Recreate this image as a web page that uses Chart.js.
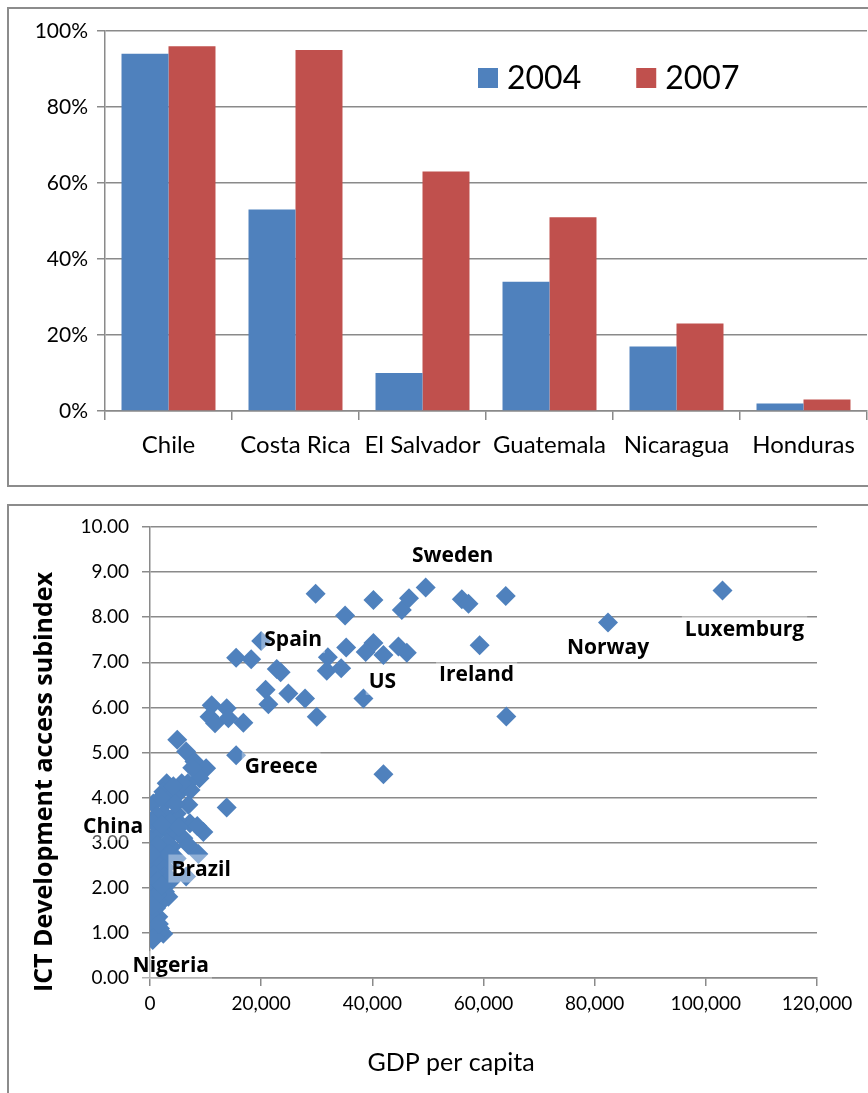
<!DOCTYPE html>
<html>
<head>
<meta charset="utf-8">
<script src="https://cdn.jsdelivr.net/npm/chart.js@4/dist/chart.umd.min.js"></script>
<style>
  html, body { margin: 0; padding: 0; background: #fff; width: 868px; height: 1093px; overflow: hidden; position: relative; }
  .frame { position: absolute; border: 2px solid #8c8c8c; box-sizing: border-box; }
  #frameTop { left: 7px; top: 7px; width: 900px; height: 480px; }
  #frameBottom { left: 7px; top: 504px; width: 900px; height: 700px; }
  canvas { position: absolute; left: 0; }
  #barCanvas { top: 0; width: 868px; height: 495px; }
  #scatterCanvas { top: 500px; width: 868px; height: 593px; }
</style>
</head>
<body>
<div class="frame" id="frameTop"></div>
<div class="frame" id="frameBottom"></div>
<canvas id="barCanvas" width="868" height="495"></canvas>
<canvas id="scatterCanvas" width="868" height="593"></canvas>
<script>
// ---- Bar chart: share by country, 2004 vs 2007 ----
const countries = ['Chile', 'Costa Rica', 'El Salvador', 'Guatemala', 'Nicaragua', 'Honduras'];
const share2004 = [94, 53, 10, 34, 17, 2];
const share2007 = [96, 95, 63, 51, 23, 3];
const seriesYears = ['2004', '2007'];
const percentTicks = [0, 20, 40, 60, 80, 100];

// ---- Scatter: GDP per capita vs ICT access subindex ----
const gdpPerCapita = [
  29800, 40200, 45300, 35100, 46600, 56100, 57300, 64000, 64100, 15500,
  18200, 35300, 32000, 31800, 34400, 38800, 42000, 44700, 46200, 22800,
  23500, 20800, 21300, 24900, 27900, 30000, 38400, 42000, 11100, 13800,
  10700, 11700, 14100, 16800, 4900, 6500, 8000, 10100, 8900, 6800,
  3000, 2400, 5400, 7300, 600, 3300, 13800, 4800, 7600, 5700,
  6900, 9600, 7200, 4800, 2400, 1500, 900, 3900, 6000, 1800,
  3900, 6900, 8700, 600, 2400, 4800, 300, 1800, 3900, 200,
  300, 2700, 3300, 200, 1800, 200, 1500, 200, 1800, 2400,
  1000, 1100, 700, 900, 1200, 2800, 3000, 1200, 3600, 5200,
  2000, 4200, 900, 1400, 600, 2100, 3500, 500, 1300, 2600,
  4600, 8500, 1000, 600, 1000, 500, 1200, 700, 1300, 400,
  800, 1600, 2200, 300
];
const ictAccess = [
  8.52, 8.38, 8.16, 8.04, 8.42, 8.40, 8.30, 8.47, 5.80, 7.10,
  7.07, 7.33, 7.11, 6.81, 6.87, 7.23, 7.16, 7.35, 7.21, 6.85,
  6.78, 6.39, 6.07, 6.31, 6.20, 5.79, 6.20, 4.52, 6.05, 5.98,
  5.79, 5.65, 5.76, 5.66, 5.28, 5.02, 4.80, 4.65, 4.43, 4.32,
  4.32, 4.13, 4.13, 4.17, 3.87, 3.95, 3.78, 3.65, 4.66, 4.32,
  3.84, 3.24, 3.43, 3.50, 3.65, 3.35, 3.17, 3.21, 3.10, 2.84,
  2.91, 2.95, 2.75, 2.62, 2.62, 2.65, 2.39, 2.32, 2.17, 2.17,
  1.95, 1.91, 1.80, 1.73, 1.66, 1.43, 1.36, 1.14, 1.10, 0.98,
  2.05, 1.55, 1.25, 0.95, 2.55, 2.45, 3.00, 3.60, 3.45, 3.35,
  4.00, 4.25, 1.85, 2.95, 3.45, 3.40, 2.75, 2.10, 1.00, 2.25,
  3.85, 3.37, 1.75, 1.50, 1.30, 1.05, 1.85, 2.30, 2.15, 1.60,
  0.90, 1.20, 2.05, 2.75
];
const namedCountries = ['Sweden', 'Spain', 'US', 'Ireland', 'Norway', 'Luxemburg', 'Greece', 'China', 'Brazil', 'Nigeria'];
const namedGdp = [49600, 20000, 40200, 59300, 82400, 103000, 15500, 200, 6500, 500];
const namedIct = [8.66, 7.47, 7.43, 7.38, 7.88, 8.59, 4.94, 2.88, 2.25, 0.84];
const gdpTicks = [0, 20000, 40000, 60000, 80000, 100000, 120000];
const ictTicks = [0, 1, 2, 3, 4, 5, 6, 7, 8, 9, 10];

// label placement (pixel offsets from each named marker)
const noteOffsets = [[27, -32], [32, -2], [9, 38], [-3, 29], [0, 24], [22, 38], [45, 11], [-38, -22], [15, -8], [18, 25]];

const BLUE = '#4F81BD';
const RED = '#C0504D';
const GRID = '#8a8a8a';

Chart.defaults.font.family = 'Lato, "Open Sans", sans-serif';
Chart.defaults.color = '#000';

// legend drawn inside the plot, next to the tallest bars
const insideLegend = {
  id: 'insideLegend',
  afterDraw(chart, args, o) {
    const ctx = chart.ctx;
    ctx.save();
    ctx.font = o.font;
    ctx.textBaseline = 'middle';
    ctx.textAlign = 'left';
    let x = o.x;
    chart.data.datasets.forEach(ds => {
      ctx.fillStyle = ds.backgroundColor;
      ctx.fillRect(x, o.y - o.box / 2, o.box, o.box);
      x += o.box + o.gap;
      ctx.fillStyle = '#000';
      ctx.fillText(ds.label, x, o.y + 1);
      x += ctx.measureText(ds.label).width + o.itemGap;
    });
    ctx.restore();
  }
};

new Chart(document.getElementById('barCanvas'), {
  type: 'bar',
  data: {
    labels: countries,
    datasets: [
      { label: seriesYears[0], data: share2004, backgroundColor: BLUE },
      { label: seriesYears[1], data: share2007, backgroundColor: RED }
    ]
  },
  options: {
    responsive: false,
    animation: false,
    devicePixelRatio: 1,
    categoryPercentage: 0.74,
    barPercentage: 1.0,
    layout: { padding: { top: 31, left: 0, right: 1, bottom: 0 } },
    plugins: {
      legend: { display: false },
      tooltip: { enabled: false },
      insideLegend: { x: 478, y: 78, box: 20, gap: 9, itemGap: 55, font: '32px Lato' }
    },
    scales: {
      x: {
        grid: { display: true, drawOnChartArea: false, drawTicks: true, tickLength: 9, color: GRID, lineWidth: 1.5, offset: true },
        border: { display: true, color: GRID, width: 1.5 },
        ticks: { font: { size: 24 }, padding: 11, maxRotation: 0, autoSkip: false },
        afterFit(scale) { scale.height = 84; }
      },
      y: {
        min: 0, max: 100,
        afterBuildTicks(scale) { scale.ticks = percentTicks.map(v => ({ value: v })); },
        ticks: { font: { size: 21 }, padding: 9, callback: v => v + '%' },
        grid: { color: GRID, lineWidth: 1.5, tickLength: 8 },
        border: { display: true, color: GRID, width: 1.5 },
        afterFit(scale) { scale.width = 105; }
      }
    }
  },
  plugins: [insideLegend]
});

// country names next to their markers, on a faint white plate
const pointNotes = {
  id: 'pointNotes',
  afterDatasetsDraw(chart, args, o) {
    const ctx = chart.ctx;
    const meta = chart.getDatasetMeta(1);
    ctx.save();
    ctx.font = o.font;
    ctx.textAlign = 'center';
    ctx.textBaseline = 'middle';
    namedCountries.forEach((name, i) => {
      const pt = meta.data[i];
      const cx = pt.x + noteOffsets[i][0];
      const cy = pt.y + noteOffsets[i][1];
      const w = ctx.measureText(name).width;
      ctx.fillStyle = 'rgba(255,255,255,0.36)';
      ctx.fillRect(cx - w / 2 - 3, cy - 14, w + 6, 28);
      ctx.fillStyle = '#000';
      ctx.fillText(name, cx, cy + 1);
    });
    ctx.restore();
  }
};

// axis captions
const axisCaptions = {
  id: 'axisCaptions',
  afterDraw(chart, args, o) {
    const ctx = chart.ctx;
    ctx.save();
    ctx.fillStyle = '#000';
    ctx.textAlign = 'center';
    ctx.textBaseline = 'middle';
    ctx.font = o.xFont;
    ctx.fillText(o.xText, o.xAt[0], o.xAt[1]);
    ctx.translate(o.yAt[0], o.yAt[1]);
    ctx.rotate(-Math.PI / 2);
    ctx.font = o.yFont;
    ctx.fillText(o.yText, 0, 0);
    ctx.restore();
  }
};

const markerStyle = { pointStyle: 'rectRot', pointRadius: 10, pointHoverRadius: 10, backgroundColor: BLUE, borderWidth: 0, showLine: false };

new Chart(document.getElementById('scatterCanvas'), {
  type: 'scatter',
  data: {
    datasets: [
      Object.assign({ label: 'countries', data: gdpPerCapita.map((g, i) => ({ x: g, y: ictAccess[i] })) }, markerStyle),
      Object.assign({ label: 'named', data: namedGdp.map((g, i) => ({ x: g, y: namedIct[i] })) }, markerStyle)
    ]
  },
  options: {
    responsive: false,
    animation: false,
    devicePixelRatio: 1,
    layout: { padding: { top: 27, left: 0, right: 51, bottom: 0 } },
    plugins: {
      legend: { display: false },
      tooltip: { enabled: false },
      pointNotes: { font: 'bold 21px "Open Sans"' },
      axisCaptions: {
        xText: 'GDP per capita', xFont: '25px Lato', xAt: [451, 563],
        yText: 'ICT Development access subindex', yFont: 'bold 25px "Open Sans"', yAt: [45, 282]
      }
    },
    scales: {
      x: {
        type: 'linear', min: 0, max: 120000,
        afterBuildTicks(scale) { scale.ticks = gdpTicks.map(v => ({ value: v })); },
        ticks: { font: { size: 19 }, padding: 6, maxRotation: 0, callback: v => v.toLocaleString('en-US') },
        grid: { drawOnChartArea: false, drawTicks: true, tickLength: 8, color: GRID, lineWidth: 1.5 },
        border: { display: true, color: GRID, width: 1.5 },
        afterFit(scale) { scale.height = 115; }
      },
      y: {
        type: 'linear', min: 0, max: 10,
        afterBuildTicks(scale) { scale.ticks = ictTicks.map(v => ({ value: v })); },
        ticks: { font: { size: 19 }, padding: 13, callback: v => v.toFixed(2) },
        grid: { color: GRID, lineWidth: 1.5, tickLength: 8 },
        border: { display: true, color: GRID, width: 1.5 },
        afterFit(scale) { scale.width = 150; }
      }
    }
  },
  plugins: [pointNotes, axisCaptions]
});
</script>
</body>
</html>
